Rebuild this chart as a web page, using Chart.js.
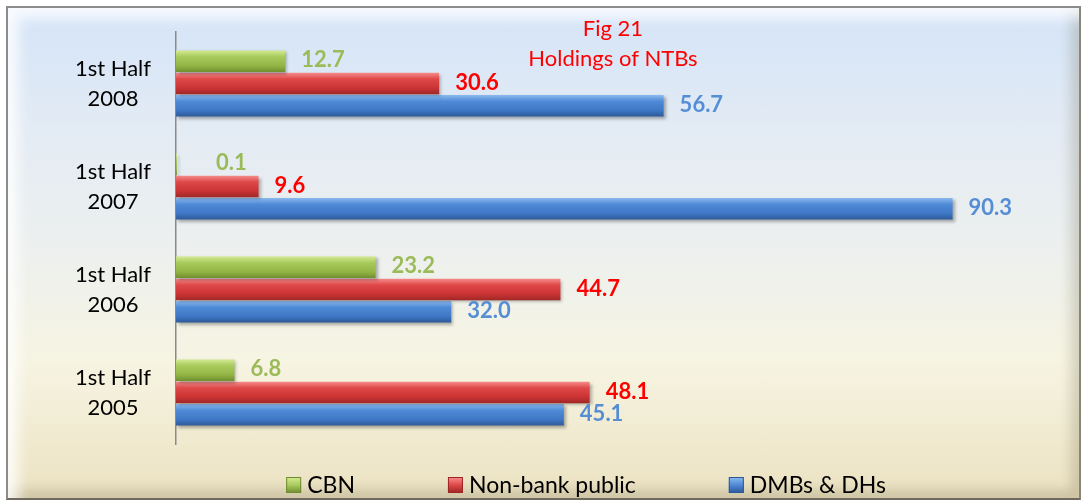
<!DOCTYPE html>
<html>
<head>
<meta charset="utf-8">
<script src="https://cdn.jsdelivr.net/npm/chart.js@4"></script>
<style>
  body { margin: 0; background: #fff; }
  #wrap { position: relative; width: 1083px; height: 504px; overflow: hidden; }
  #frame {
    position: absolute; left: 6px; top: 6px; width: 1071px; height: 490px;
    border: 2px solid #8c8c8c;
    border-bottom-color: #6e6a5e;
    border-right-color: #8a8678;
    background: linear-gradient(to bottom, #d4e4f8 0%, #e3ebf4 25%, #edf0ee 50%, #f6f4e2 72%, #ece2c2 100%);
    box-shadow: inset 10px 10px 14px rgba(255,255,255,0.85), inset -8px -8px 12px rgba(90,80,50,0.22);
  }
  #wrap canvas { position: absolute; left: 0; top: 0; }
</style>
</head>
<body>
<div id="wrap">
  <div id="frame"></div>
  <canvas id="ntb-chart" width="1083" height="504"></canvas>
</div>
<script>
const categories = [['1st Half', '2008'], ['1st Half', '2007'], ['1st Half', '2006'], ['1st Half', '2005']];
const seriesNames = ['CBN', 'Non-bank public', 'DMBs & DHs'];
const cbnValues = [12.7, 0.1, 23.2, 6.8];
const nonBankValues = [30.6, 9.6, 44.7, 48.1];
const dmbValues = [56.7, 90.3, 32.0, 45.1];
const titleLines = ['Fig 21', 'Holdings of NTBs'];

const labelColors = ['#9bbb59', '#ff0000', '#558ed5'];
const legendColors = ['#6e8c2e', '#9c2626', '#2c5796'];
const barStops = [
  ['#d6ec95', '#a9cb5e', '#93b545', '#6e8c2e'],
  ['#f79090', '#df4848', '#cc3434', '#9c2626'],
  ['#8ebcf0', '#4f8ad6', '#3f78c6', '#2c5796']
];
const catPct = 0.65;

const barFill = (stops) => (ctx) => {
  const chart = ctx.chart;
  const y = chart.scales.y;
  if (!y || ctx.dataIndex === undefined || !chart.chartArea) return stops[1];
  const center = y.getPixelForValue(ctx.dataIndex);
  const slot = (y.height / categories.length) * catPct;
  const h = slot / 3;
  const top = center - slot / 2 + ctx.datasetIndex * h;
  const g = chart.ctx.createLinearGradient(0, top, 0, top + h);
  g.addColorStop(0, stops[0]);
  g.addColorStop(0.3, stops[1]);
  g.addColorStop(0.7, stops[2]);
  g.addColorStop(1, stops[3]);
  return g;
};

// bar shadows, value labels, title and legend
const decorations = {
  id: 'decorations',
  beforeDatasetsDraw(chart) {
    const ctx = chart.ctx;
    ctx.save();
    ctx.shadowColor = 'rgba(0,0,0,0.3)';
    ctx.shadowBlur = 3;
    ctx.shadowOffsetX = 2;
    ctx.shadowOffsetY = 2;
  },
  afterDatasetsDraw(chart) {
    const ctx = chart.ctx;
    ctx.restore();
    const area = chart.chartArea;
    ctx.save();
    ctx.font = 'bold 22px Lato';
    ctx.textAlign = 'left';
    ctx.textBaseline = 'middle';
    chart.data.datasets.forEach((ds, di) => {
      const meta = chart.getDatasetMeta(di);
      meta.data.forEach((el, i) => {
        ctx.fillStyle = labelColors[di];
        const x = Math.max(el.x + 16, area.left + 40);
        ctx.fillText(ds.data[i].toFixed(1), x, el.y - 1);
      });
    });

    // title
    ctx.font = '22px Lato';
    ctx.fillStyle = '#ff0000';
    ctx.textAlign = 'center';
    const cx = (area.left + area.right) / 2 + 7;
    ctx.fillText(titleLines[0], cx, 29);
    ctx.fillText(titleLines[1], cx, 59);

    // legend
    ctx.font = '23px Lato';
    ctx.textAlign = 'left';
    const box = 15, gapText = 6, gapItem = 93;
    const widths = seriesNames.map(n => box + gapText + ctx.measureText(n).width);
    const total = widths.reduce((a, b) => a + b, 0) + gapItem * (seriesNames.length - 1);
    let x = 586 - total / 2;
    const ly = 485;
    seriesNames.forEach((name, i) => {
      const g = ctx.createLinearGradient(0, ly - 8, 0, ly + 8);
      g.addColorStop(0, barStops[i][0]);
      g.addColorStop(0.5, barStops[i][1]);
      g.addColorStop(1, barStops[i][3]);
      ctx.fillStyle = g;
      ctx.fillRect(x, ly - 8, box, 16);
      ctx.strokeStyle = legendColors[i];
      ctx.lineWidth = 1;
      ctx.strokeRect(x + 0.5, ly - 7.5, box - 1, 15);
      ctx.fillStyle = '#000';
      ctx.fillText(name, x + box + gapText, ly + 1);
      x += widths[i] + gapItem;
    });
    ctx.restore();
  }
};

new Chart(document.getElementById('ntb-chart').getContext('2d'), {
  type: 'bar',
  data: {
    labels: categories,
    datasets: [
      { label: seriesNames[0], data: cbnValues, backgroundColor: barFill(barStops[0]) },
      { label: seriesNames[1], data: nonBankValues, backgroundColor: barFill(barStops[1]) },
      { label: seriesNames[2], data: dmbValues, backgroundColor: barFill(barStops[2]) }
    ]
  },
  options: {
    indexAxis: 'y',
    responsive: false,
    animation: false,
    categoryPercentage: catPct,
    barPercentage: 0.96,
    layout: { padding: { top: 32, bottom: 60, left: 0, right: 47 } },
    plugins: {
      legend: { display: false },
      tooltip: { enabled: false }
    },
    scales: {
      x: { display: false, min: 0, max: 100 },
      y: {
        afterFit: (scale) => {
          scale.width = 176;
          scale.paddingTop = 0;
          scale.paddingBottom = 0;
        },
        grid: { display: false, drawTicks: false },
        border: { display: true, color: '#8a8a8a', width: 1.5 },
        ticks: {
          color: '#000',
          crossAlign: 'center',
          padding: 25,
          font: { family: 'Lato', size: 22, lineHeight: 1.36 }
        }
      }
    }
  },
  plugins: [decorations]
});
</script>
</body>
</html>
